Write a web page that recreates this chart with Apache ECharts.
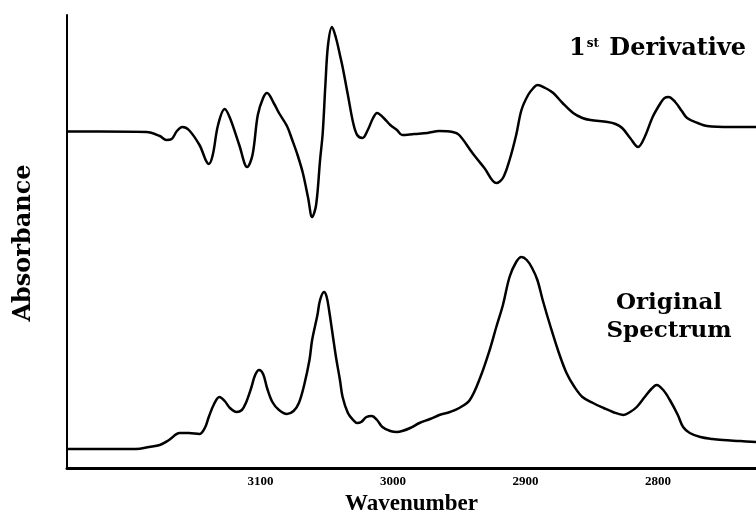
<!DOCTYPE html>
<html>
<head>
<meta charset="utf-8">
<script src="https://cdn.jsdelivr.net/npm/echarts@6/dist/echarts.min.js"></script>
<style>
html, body { margin: 0; padding: 0; background: #fff; }
#container { width: 756px; height: 522px; }
</style>
</head>
<body>
<div id="container"></div>
<script>
// wavenumber (cm-1) and values, arbitrary units
var derivWn = [3246, 3222, 3186, 3176, 3171, 3167, 3163, 3159, 3154, 3146, 3139, 3136, 3132, 3127, 3123, 3116,
    3110, 3106, 3102, 3098, 3095, 3090, 3086, 3080, 3076, 3072, 3068, 3064, 3061, 3058, 3055, 3053, 3051, 3049,
    3046, 3043, 3040, 3038, 3034, 3030, 3027, 3023, 3019, 3015, 3012, 3007, 3002, 2997, 2993, 2984, 2974, 2965,
    2955, 2950, 2940, 2931, 2922, 2917, 2912, 2907, 2903, 2898, 2894, 2891, 2885, 2879, 2872, 2864, 2857, 2851,
    2838, 2832, 2827, 2821, 2815, 2810, 2804, 2798, 2795, 2792, 2787, 2782, 2778, 2770, 2763, 2745, 2726];
var derivVal = [0, 0, -0.005, -0.045, -0.085, -0.075, 0.005, 0.045, 0.015, -0.135, -0.325, -0.235, 0.065, 0.225,
    0.135, -0.135, -0.355, -0.235, 0.165, 0.335, 0.385, 0.285, 0.185, 0.055, -0.085, -0.235, -0.415, -0.665,
    -0.855, -0.735, -0.285, -0.015, 0.465, 0.865, 1.045, 0.935, 0.765, 0.645, 0.365, 0.085, -0.035, -0.065, 0.015,
    0.135, 0.185, 0.135, 0.065, 0.015, -0.035, -0.025, -0.015, 0.005, -0.005, -0.035, -0.215, -0.365, -0.515,
    -0.465, -0.285, -0.035, 0.215, 0.365, 0.435, 0.465, 0.435, 0.385, 0.285, 0.185, 0.135, 0.115, 0.095, 0.075,
    0.035, -0.065, -0.155, -0.055, 0.145, 0.285, 0.335, 0.345, 0.295, 0.205, 0.135, 0.085, 0.055, 0.045, 0.045];

var specWn = [3246, 3222, 3194, 3184, 3176, 3169, 3161, 3154, 3146, 3142, 3139, 3135, 3131, 3127, 3123, 3118,
    3114, 3111, 3107, 3104, 3101, 3098, 3095, 3091, 3086, 3080, 3075, 3071, 3067, 3063, 3061, 3057, 3055, 3052,
    3050, 3048, 3046, 3043, 3040, 3038, 3034, 3030, 3027, 3024, 3020, 3016, 3012, 3008, 3002, 2997, 2993, 2987,
    2980, 2972, 2965, 2957, 2950, 2942, 2934, 2927, 2922, 2917, 2912, 2907, 2903, 2899, 2895, 2891, 2887, 2881,
    2875, 2869, 2863, 2857, 2849, 2841, 2834, 2826, 2821, 2816, 2810, 2805, 2801, 2796, 2791, 2785, 2781, 2776,
    2768, 2759, 2751, 2738, 2726];
var specVal = [0.19, 0.19, 0.19, 0.21, 0.23, 0.28, 0.35, 0.35, 0.34, 0.40, 0.51, 0.64, 0.71, 0.67, 0.60, 0.56,
    0.58, 0.65, 0.80, 0.93, 0.98, 0.94, 0.80, 0.66, 0.58, 0.54, 0.57, 0.65, 0.83, 1.08, 1.28, 1.53, 1.68, 1.76,
    1.71, 1.56, 1.38, 1.11, 0.88, 0.71, 0.55, 0.48, 0.45, 0.46, 0.51, 0.52, 0.48, 0.41, 0.37, 0.36, 0.37, 0.40,
    0.45, 0.49, 0.53, 0.56, 0.60, 0.68, 0.91, 1.18, 1.41, 1.63, 1.91, 2.06, 2.11, 2.08, 2.00, 1.88, 1.68, 1.41,
    1.16, 0.95, 0.81, 0.71, 0.65, 0.60, 0.56, 0.53, 0.56, 0.61, 0.71, 0.79, 0.83, 0.78, 0.68, 0.53, 0.41, 0.35,
    0.31, 0.29, 0.28, 0.27, 0.26];

var tickLabels = [3100, 3000, 2900, 2800];

function pairs(xs, ys) {
    var out = [];
    for (var i = 0; i < xs.length; i++) out.push([xs[i], ys[i]]);
    return out;
}

var dom = document.getElementById('container');
var myChart = echarts.init(dom, null, { renderer: 'canvas' });

var serifBold = 'DejaVu Serif';
var xCommon = { type: 'value', min: 2726, max: 3246, inverse: true, splitLine: { show: false } };

var option = {
    backgroundColor: '#fff',
    animation: false,
    grid: [
        { left: 67, right: 0, top: 15, height: 226.5, outerBoundsMode: 'none' },
        { left: 67, right: 0, top: 241.5, height: 226.5, outerBoundsMode: 'none' }
    ],
    xAxis: [
        Object.assign({}, xCommon, {
            gridIndex: 0, show: false
        }),
        Object.assign({}, xCommon, {
            gridIndex: 1,
            name: 'Wavenumber',
            nameLocation: 'middle',
            nameGap: 25,
            nameTextStyle: { fontFamily: 'Liberation Serif', fontWeight: 'bold', fontSize: 23, color: '#000' },
            axisLine: { show: true, onZero: false, lineStyle: { color: '#000', width: 3 } },
            axisTick: { show: false },
            axisLabel: {
                customValues: tickLabels,
                formatter: function (v) { return String(v); },
                margin: 7,
                fontFamily: 'Liberation Serif', fontWeight: 'bold', fontSize: 13, color: '#000'
            }
        })
    ],
    yAxis: [
        {
            type: 'value', gridIndex: 0, min: -1.1, max: 1.165,
            axisLine: { show: true, onZero: false, lineStyle: { color: '#000', width: 2 } },
            axisTick: { show: false }, axisLabel: { show: false }, splitLine: { show: false }
        },
        {
            type: 'value', gridIndex: 1, min: 0, max: 2.265,
            axisLine: { show: true, onZero: false, lineStyle: { color: '#000', width: 2 } },
            axisTick: { show: false }, axisLabel: { show: false }, splitLine: { show: false }
        }
    ],
    title: [
        {
            text: '{a|1}{b|st}{a| Derivative}',
            left: 564, top: 32,
            textStyle: {
                rich: {
                    a: { fontFamily: serifBold, fontWeight: 'bold', fontSize: 24, color: '#000' },
                    b: { fontFamily: serifBold, fontWeight: 'bold', fontSize: 12, color: '#000', padding: [0, 2, 11, 1] }
                }
            }
        },
        {
            text: 'Original\nSpectrum',
            left: 664, top: 284, textAlign: 'center',
            textStyle: { fontFamily: serifBold, fontWeight: 'bold', fontSize: 23, lineHeight: 28, color: '#000' }
        }
    ],
    graphic: [
        {
            type: 'text', x: 24, y: 243, rotation: Math.PI / 2,
            style: {
                text: 'Absorbance', fill: '#000',
                font: 'bold 24px "DejaVu Serif"',
                textAlign: 'center', textVerticalAlign: 'middle'
            }
        }
    ],
    series: [
        {
            name: '1st Derivative', type: 'line', xAxisIndex: 0, yAxisIndex: 0,
            data: pairs(derivWn, derivVal),
            showSymbol: false, smooth: 0.35,
            lineStyle: { color: '#000', width: 2.5 }
        },
        {
            name: 'Original Spectrum', type: 'line', xAxisIndex: 1, yAxisIndex: 1,
            data: pairs(specWn, specVal),
            showSymbol: false, smooth: 0.35,
            lineStyle: { color: '#000', width: 2.5 }
        }
    ]
};

myChart.setOption(option);
</script>
</body>
</html>
